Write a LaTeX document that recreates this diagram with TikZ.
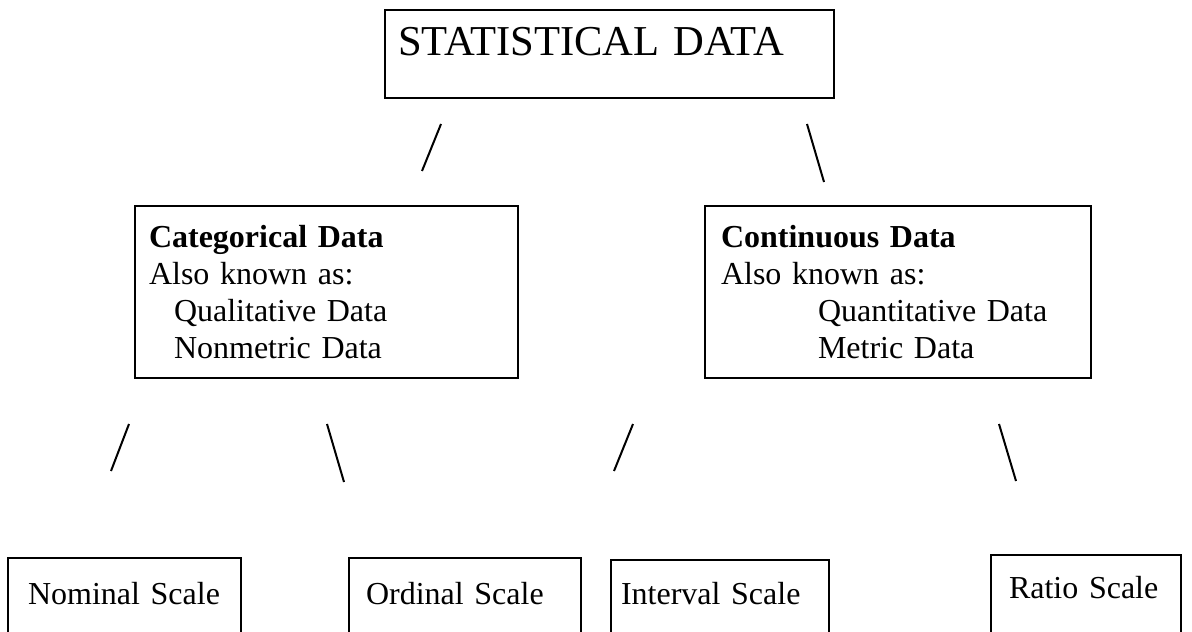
\documentclass[tikz,border=0pt]{standalone}
\usepackage{fontspec}
\setmainfont{Liberation Serif}

\begin{document}
\begin{tikzpicture}[x=0.5pt, y=-0.5pt, line width=1pt,
    box/.style={draw, rectangle, anchor=north west, align=left, font=\fontsize{16}{18.5}\selectfont},
    scalebox/.style={box, inner ysep=0pt, text depth=40pt}]

    \useasboundingbox (0,0) rectangle (1192,631);
    \clip (0,0) rectangle (1192,631);

    \node[box, inner xsep=6.5pt, inner ysep=0pt, text width=211.5pt, text height=23pt, text depth=21pt, font=\fontsize{21.3}{25}\selectfont] (stat) at (384,9) {STATISTICAL DATA};

    \node[box, inner xsep=7pt, text width=177.5pt, minimum height=86pt] (cat) at (134,205)
        {\textbf{Categorical Data}\\Also known as:\\\hspace*{12.5pt}Qualitative Data\\\hspace*{12.5pt}Nonmetric Data};
    \node[box, inner xsep=8pt, text width=177pt, minimum height=86pt] (cont) at (704,205)
        {\textbf{Continuous Data}\\Also known as:\\\hspace*{48.5pt}Quantitative Data\\\hspace*{48.5pt}Metric Data};

    \node[scalebox, inner xsep=10pt, text width=96.5pt, text height=23pt] (nom) at (7,557) {Nominal Scale};
    \node[scalebox, inner xsep=8.5pt, text width=99pt, text height=23pt] (ord) at (348,557) {Ordinal Scale};
    \node[scalebox, inner xsep=5pt, text width=99pt, text height=22pt] (int) at (610,559) {Interval Scale};
    \node[scalebox, inner xsep=9pt, text width=77pt, text height=21.5pt] (rat) at (990,554) {Ratio Scale};

    % the little slashes between the levels
    \coordinate (s1a) at (422,171);  \coordinate (s1b) at (441,124);
    \coordinate (s2a) at (807,124);  \coordinate (s2b) at (824,182);
    \coordinate (s3a) at (111,471);  \coordinate (s3b) at (129,424);
    \coordinate (s4a) at (327,424);  \coordinate (s4b) at (344,482);
    \coordinate (s5a) at (614,471);  \coordinate (s5b) at (633,424);
    \coordinate (s6a) at (999,424);  \coordinate (s6b) at (1016,481);

    \draw (s1a) -- (s1b);
    \draw (s2a) -- (s2b);
    \draw (s3a) -- (s3b);
    \draw (s4a) -- (s4b);
    \draw (s5a) -- (s5b);
    \draw (s6a) -- (s6b);
\end{tikzpicture}
\end{document}
